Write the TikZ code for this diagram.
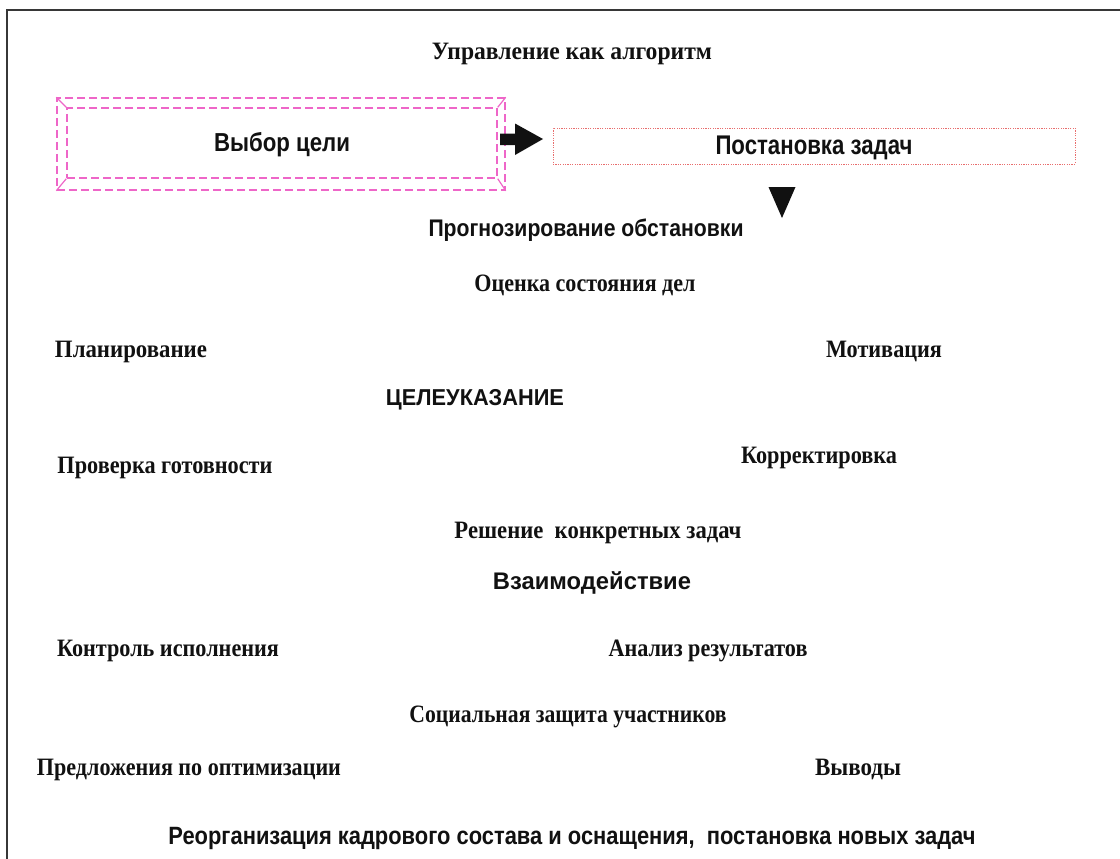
\documentclass[tikz,border=0pt]{standalone}
\usepackage{fontspec}
\setmainfont{Liberation Serif}
\newfontfamily\sansb{Liberation Sans}
\usepackage{graphicx}
\definecolor{pinkd}{RGB}{238,102,200}
\definecolor{redd}{RGB}{232,110,110}
\definecolor{framec}{RGB}{55,55,55}
\definecolor{inkc}{RGB}{17,17,17}
\newcommand\fitw[2]{\resizebox{#1pt}{\height}{#2}}
\tikzset{
  ser/.style={inner sep=0pt, text=inkc, font=\fontsize{25}{29}\selectfont\bfseries, text height=16pt, text depth=0pt},
  san/.style={inner sep=0pt, text=inkc, font=\sansb\fontsize{24}{28}\selectfont\bfseries, text height=17pt, text depth=0pt},
  pinkbox/.style={draw=pinkd, line width=1.4pt, dash pattern=on 8pt off 4pt, inner sep=0pt},
  redbox/.style={draw=redd, line width=0.8pt, dash pattern=on 1.2pt off 1.2pt, inner sep=0pt},
  blockfill/.style={fill=inkc, draw=none},
}
\begin{document}
\begin{tikzpicture}[x=1pt,y=-1pt]
\useasboundingbox (0,0) rectangle (1120,859);
\fill[white] (0,0) rectangle (1120,859);
% frame
\draw[framec, line width=1.4pt] (7,859) -- (7,10) -- (1120,10);

% title
\node[ser] (title) at (572,52) {\fitw{280}{Управление как алгоритм}};

% goal box (double dashed)
\node[pinkbox, minimum width=448pt, minimum height=92pt] (goalout) at (281,144) {};
\node[pinkbox, san, font=\sansb\fontsize{26}{30}\selectfont\bfseries, minimum width=430pt, minimum height=70pt] (goal) at (282,143) {\fitw{136}{Выбор цели}};
\draw[pinkd, line width=1.2pt] (goalout.north west) -- (goal.north west);
\draw[pinkd, line width=1.2pt] (goalout.north east) -- (goal.north east);
\draw[pinkd, line width=1.2pt] (goalout.south west) -- (goal.south west);
\draw[pinkd, line width=1.2pt] (goalout.south east) -- (goal.south east);

% task box
\node[redbox, san, font=\sansb\fontsize{27}{31}\selectfont\bfseries, minimum width=522pt, minimum height=36pt] (task) at (814,146) {\fitw{197}{Постановка задач}};

% block arrow goal -> task
\coordinate (ar) at (500,139);
\fill[blockfill] (ar) ++(0,-5.5) -- ++(15,0) -- ++(0,-10) -- ++(28,15.5) -- ++(-28,16) -- ++(0,-10) -- ++(-15,0) -- cycle;

% down triangle
\coordinate (tri) at (782,187);
\fill[blockfill] (tri) ++(-13.5,0) -- ++(27,0) -- ++(-13.5,31) -- cycle;

% texts
\node[san] (prog) at (586,228) {\fitw{315}{Прогнозирование обстановки}};
\node[ser] (ocen) at (585,283) {\fitw{221}{Оценка состояния дел}};
\node[ser] (plan) at (131,349) {\fitw{152}{Планирование}};
\node[ser] (motiv) at (884,349) {\fitw{116}{Мотивация}};
\node[san, font=\sansb\fontsize{23}{27}\selectfont\bfseries] (celeuk) at (475,397) {\fitw{178}{ЦЕЛЕУКАЗАНИЕ}};
\node[ser] (prov) at (165,465) {\fitw{215}{Проверка готовности}};
\node[ser] (korr) at (819,455) {\fitw{156}{Корректировка}};
\node[ser] (resh) at (598,530) {\fitw{287}{Решение\ \ конкретных задач}};
\node[san] (vzaim) at (592,581) {\fitw{198}{Взаимодействие}};
\node[ser] (kontr) at (168,648) {\fitw{222}{Контроль исполнения}};
\node[ser] (anal) at (708,648) {\fitw{199}{Анализ результатов}};
\node[ser] (soc) at (568,714) {\fitw{317}{Социальная защита участников}};
\node[ser] (predl) at (189,767) {\fitw{304}{Предложения по оптимизации}};
\node[ser] (vyv) at (858,767) {\fitw{86}{Выводы}};
\node[san, font=\sansb\fontsize{25}{29}\selectfont\bfseries] (reorg) at (572,836) {\fitw{807}{Реорганизация кадрового состава и оснащения,\ \ постановка новых задач}};
\end{tikzpicture}
\end{document}
